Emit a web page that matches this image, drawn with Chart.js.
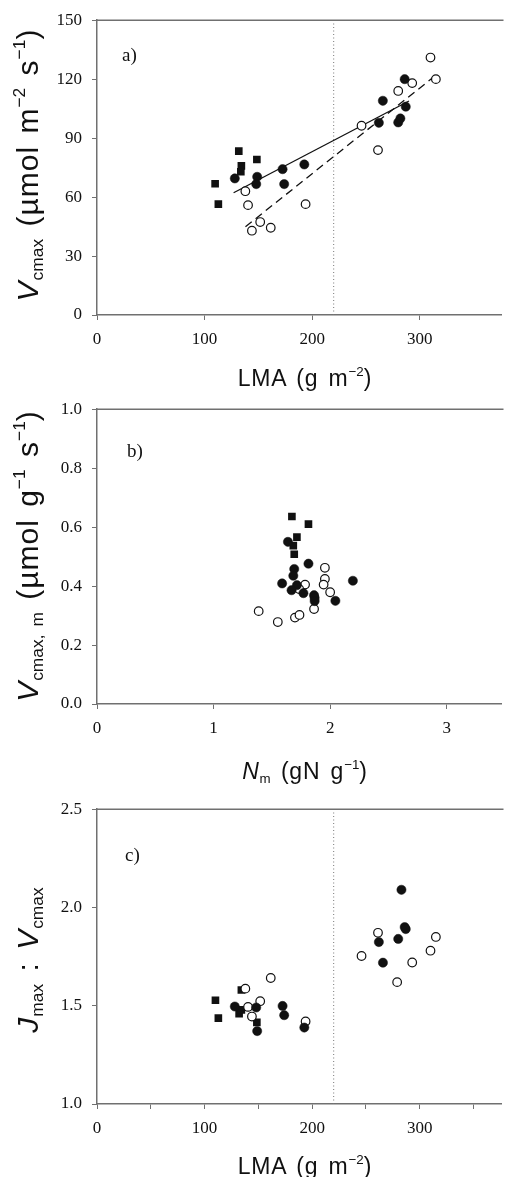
<!DOCTYPE html>
<html><head><meta charset="utf-8">
<script src="https://cdn.jsdelivr.net/npm/chart.js@4"></script>
<style>
html,body{margin:0;padding:0;background:#fff;}
body{width:507px;height:1177px;position:relative;overflow:hidden;font-family:"Liberation Sans",Arial,sans-serif;color:#111;}
.panel{position:absolute;left:0;width:507px;height:388px;}
.ytitle{position:absolute;white-space:nowrap;transform:translate(-50%,-50%) rotate(-90deg);font-size:30px;line-height:1;letter-spacing:1px;word-spacing:3px;}
.xtitle{position:absolute;white-space:nowrap;transform:translate(-50%,-50%);font-size:23px;line-height:1;letter-spacing:0.8px;word-spacing:3px;}
sub{font-size:0.58em;vertical-align:-0.3em;line-height:0;letter-spacing:0;}
sup{font-size:0.58em;vertical-align:0.75em;line-height:0;letter-spacing:0;}
.tag{position:absolute;font-family:"Liberation Serif","Times New Roman",serif;font-size:19px;line-height:1;}
i{font-style:italic;}
</style>
</head><body>
<div class="panel" style="top:0"><canvas id="ca"></canvas></div>
<div class="panel" style="top:389px"><canvas id="cb"></canvas></div>
<div class="panel" style="top:789px"><canvas id="cc"></canvas></div>

<div class="tag" style="left:122px;top:45px">a)</div>
<div class="tag" style="left:127px;top:441px">b)</div>
<div class="tag" style="left:125px;top:845px">c)</div>

<div class="ytitle" style="left:28px;top:165px"><i>V</i><sub>cmax</sub> (µmol m<sup>−2</sup> s<sup>−1</sup>)</div>
<div class="ytitle" style="left:28px;top:556px"><i>V</i><sub>cmax, m</sub> (µmol g<sup>−1</sup> s<sup>−1</sup>)</div>
<div class="ytitle" style="left:28px;top:960px"><i>J</i><sub>max</sub> : <i>V</i><sub>cmax</sub></div>

<div class="xtitle" style="left:305px;top:378px">LMA (g m<sup>−2</sup>)</div>
<div class="xtitle" style="left:305px;top:771px"><i>N</i><sub>m</sub> (gN g<sup>−1</sup>)</div>
<div class="xtitle" style="left:305px;top:1166px">LMA (g m<sup>−2</sup>)</div>

<script>
// ---------- Panel a: Vcmax vs LMA ----------
const aSquareLMA = [131.8, 148.6, 134.2, 133.7, 109.8, 112.8];
const aSquareV   = [83.4, 79.1, 75.9, 72.9, 66.8, 56.4];
const aFilledLMA = [128.1, 148.9, 148.0, 172.5, 174.0, 192.7, 265.7, 262.0, 286, 287, 280, 282];
const aFilledV   = [69.5, 70.3, 66.6, 74.2, 66.6, 76.6, 109.0, 97.8, 120, 106, 98, 100];
const aOpenLMA   = [137.9, 140.4, 151.7, 144.0, 161.5, 193.9, 245.9, 261.2, 280, 293, 310, 315];
const aOpenV     = [63.0, 55.9, 47.3, 42.9, 44.4, 56.4, 96.3, 83.9, 114, 118, 131, 120];
const aSolidFitLMA  = [127, 290];
const aSolidFitV    = [62.2, 108.9];
const aDashedFitLMA = [138, 315];
const aDashedFitV   = [44.9, 122];
const thresholdLMA = 220;

// ---------- Panel b: Vcmax,m vs Nm ----------
const bSquareN = [1.672, 1.814, 1.715, 1.684, 1.692];
const bSquareV = [0.636, 0.610, 0.566, 0.537, 0.508];
const bFilledN = [1.638, 1.814, 1.692, 1.684, 1.588, 1.715, 1.669, 1.771, 1.862, 1.867, 1.867, 2.045, 2.195];
const bFilledV = [0.550, 0.476, 0.458, 0.435, 0.409, 0.403, 0.386, 0.376, 0.369, 0.360, 0.349, 0.350, 0.418];
const bOpenN   = [1.955, 1.955, 1.944, 1.785, 1.734, 2.000, 1.862, 1.387, 1.551, 1.698, 1.737];
const bOpenV   = [0.462, 0.424, 0.405, 0.405, 0.390, 0.379, 0.322, 0.315, 0.278, 0.293, 0.302];

// ---------- Panel c: Jmax:Vcmax vs LMA ----------
const cSquareLMA = [110.1, 112.8, 134.2, 132.1, 134.2, 148.6];
const cSquareJ   = [1.528, 1.437, 1.580, 1.460, 1.479, 1.415];
const cFilledLMA = [128.1, 148.0, 148.9, 172.5, 174.0, 192.7, 262.0, 265.8, 283, 286, 287, 280];
const cFilledJ   = [1.496, 1.491, 1.371, 1.499, 1.452, 1.389, 1.824, 1.719, 2.09, 1.90, 1.89, 1.84];
const cOpenLMA   = [137.9, 140.4, 151.7, 144.0, 161.5, 193.9, 261.2, 245.9, 315, 310, 293, 279];
const cOpenJ     = [1.587, 1.494, 1.523, 1.445, 1.641, 1.420, 1.871, 1.753, 1.85, 1.78, 1.72, 1.62];

// axis ranges / ticks
const lmaMax = 376, nMax = 3.47;
const aYTicks = [0, 30, 60, 90, 120, 150];
const bYTicks = [0, 0.2, 0.4, 0.6, 0.8, 1.0];
const cYTicks = [1.0, 1.5, 2.0, 2.5];

const axisColor = '#707070';
const serif = '"Liberation Serif","Times New Roman",serif';
const pts = (xs, ys) => xs.map((x, i) => ({x, y: ys[i]}));
const isMult = (v, s) => Math.abs(v / s - Math.round(v / s)) < 1e-6;

function xScale(max, step, labelStep, fmt) {
  return {
    type: 'linear', min: 0, max, position: 'bottom',
    afterBuildTicks: s => { s.ticks = s.ticks.filter(t => isMult(t.value, step)); },
    afterFit: s => { s.height = 73; },
    ticks: { stepSize: step, includeBounds: false, autoSkip: false, maxRotation: 0, padding: 9, color: '#111',
      font: { family: serif, size: 17 }, callback: v => isMult(v, labelStep) ? fmt(v) : '' },
    grid: { drawOnChartArea: false, drawTicks: true, tickLength: 5, color: axisColor, lineWidth: 1 },
    border: { color: axisColor, width: 1.5 }
  };
}
function yScale(tickVals, fmt) {
  const min = tickVals[0], max = tickVals[tickVals.length - 1];
  const step = tickVals[1] - tickVals[0];
  return {
    type: 'linear', min, max,
    afterFit: s => { s.width = 97; },
    ticks: { stepSize: step, autoSkip: false, padding: 10, color: '#111',
      font: { family: serif, size: 17 }, callback: v => fmt(v) },
    grid: { drawOnChartArea: false, drawTicks: true, tickLength: 5, color: axisColor, lineWidth: 1 },
    border: { color: axisColor, width: 1.5 }
  };
}
const frameTop = { id: 'frameTop', afterDraw(chart) {
  const {ctx, chartArea: a} = chart;
  ctx.save(); ctx.strokeStyle = axisColor; ctx.lineWidth = 1.5;
  ctx.beginPath(); ctx.moveTo(a.left, a.top); ctx.lineTo(a.right + 2, a.top); ctx.stroke(); ctx.restore();
}};

const squares = d => ({ data: d, pointStyle: 'rect', pointRadius: 5.4, backgroundColor: '#111', borderColor: '#111', borderWidth: 0, showLine: false });
const filled  = d => ({ data: d, pointStyle: 'circle', pointRadius: 4.6, backgroundColor: '#111', borderColor: '#111', borderWidth: 0.5, showLine: false });
const open    = d => ({ data: d, pointStyle: 'circle', pointRadius: 4.3, backgroundColor: '#fff', borderColor: '#111', borderWidth: 1.2, showLine: false });
const line    = (d, dash, color, w) => ({ data: d, showLine: true, pointRadius: 0, borderColor: color, borderWidth: w, borderDash: dash, fill: false, tension: 0 });

function make(id, datasets, xs, ys) {
  new Chart(document.getElementById(id), {
    type: 'scatter',
    data: { datasets },
    options: {
      responsive: true, maintainAspectRatio: false, animation: false, devicePixelRatio: 1,
      layout: { padding: { top: 20, right: 0, left: 0, bottom: 0 } },
      plugins: { legend: { display: false }, tooltip: { enabled: false } },
      scales: { x: xs, y: ys }
    },
    plugins: [frameTop]
  });
}

make('ca', [
  filled(pts(aFilledLMA, aFilledV)),
  open(pts(aOpenLMA, aOpenV)),
  squares(pts(aSquareLMA, aSquareV)),
  line(pts(aSolidFitLMA, aSolidFitV), [], '#111', 1.3),
  line(pts(aDashedFitLMA, aDashedFitV), [8, 5], '#111', 1.3),
  line(pts([thresholdLMA, thresholdLMA], [aYTicks[0], aYTicks[aYTicks.length - 1]]), [1, 2.5], '#777', 1)
], xScale(lmaMax, 100, 100, v => String(v)), yScale(aYTicks, v => String(v)));

make('cb', [
  filled(pts(bFilledN, bFilledV)),
  open(pts(bOpenN, bOpenV)),
  squares(pts(bSquareN, bSquareV))
], xScale(nMax, 1, 1, v => String(v)), yScale(bYTicks, v => v.toFixed(1)));

make('cc', [
  filled(pts(cFilledLMA, cFilledJ)),
  open(pts(cOpenLMA, cOpenJ)),
  squares(pts(cSquareLMA, cSquareJ)),
  line(pts([thresholdLMA, thresholdLMA], [cYTicks[0], cYTicks[cYTicks.length - 1]]), [1, 2.5], '#777', 1)
], xScale(lmaMax, 50, 100, v => String(v)), yScale(cYTicks, v => v.toFixed(1)));
</script>
</body></html>
